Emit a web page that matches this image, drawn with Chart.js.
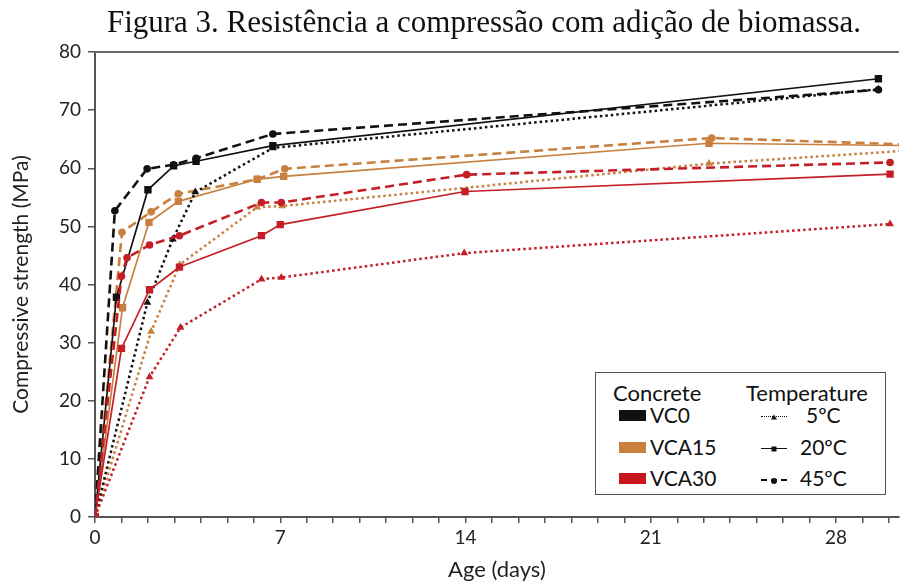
<!DOCTYPE html>
<html>
<head>
<meta charset="utf-8">
<script src="https://cdn.jsdelivr.net/npm/chart.js@4"></script>
<style>
  html, body { margin: 0; padding: 0; background: #fff; }
  #wrap { position: relative; width: 904px; height: 583px; overflow: hidden; }
  #chart { position: absolute; left: 0; top: 0; }
  #title {
    position: absolute; left: 0; top: 4px; width: 968px; text-align: center;
    font-family: "Liberation Serif", "Times New Roman", serif; font-size: 31px; color: #111;
    white-space: nowrap;
  }
  #legend {
    position: absolute; left: 595px; top: 372px; width: 289px; height: 121px;
    border: 1.5px solid #555; background: #fff; font-family: Lato, sans-serif; color: #111;
  }
  .hd { position: absolute; top: 7px; font-size: 22px; line-height: 26px; }
  .row { position: absolute; font-size: 21px; line-height: 22px; }
  .sw { position: absolute; width: 27px; height: 11px; }
  .smp { position: absolute; width: 26px; height: 0; }
  .mk { position: absolute; left: 50%; top: 50%; transform: translate(-50%, -50%); background: #111; }
</style>
</head>
<body>
<div id="wrap">
  <canvas id="chart" width="904" height="583"></canvas>
  <div id="title">Figura 3. Resistência a compressão com adição de biomassa.</div>
  <div id="legend">
    <div class="hd" style="left:17px;">Concrete</div>
    <div class="hd" style="left:150px;">Temperature</div>

    <div class="sw" style="left:23px; top:37px; background:#111;"></div>
    <div class="row" style="left:54px; top:31px;">VC0</div>
    <div class="sw" style="left:23px; top:69px; background:#c8803f;"></div>
    <div class="row" style="left:54px; top:63px;">VCA15</div>
    <div class="sw" style="left:23px; top:100px; background:#c8161e;"></div>
    <div class="row" style="left:54px; top:94px;">VCA30</div>

    <div class="smp" style="left:165px; top:43px; border-top:1.5px dotted #111;">
      <div class="mk" style="width:0;height:0;background:none;border-left:3px solid transparent;border-right:3px solid transparent;border-bottom:5px solid #111;"></div>
    </div>
    <div class="row" style="left:210px; top:31px;">5ºC</div>
    <div class="smp" style="left:165px; top:75px; border-top:1.5px solid #111;">
      <div class="mk" style="width:5px;height:5px;"></div>
    </div>
    <div class="row" style="left:204px; top:63px;">20ºC</div>
    <div class="smp" style="left:165px; top:106px; border-top:2px dashed #111;">
      <div class="mk" style="width:6px;height:6px;border-radius:50%;"></div>
    </div>
    <div class="row" style="left:204px; top:94px;">45ºC</div>
  </div>
</div>
<script>
// Compressive strength (MPa) against age (days), per concrete mix and curing temperature.
const VCA30_5C_AGE  = [0, 2.06, 3.23, 6.29, 7.04, 13.95, 30.04];
const VCA30_5C_MPA  = [0, 24.1, 32.6, 40.9, 41.2, 45.4, 50.4];
const VCA30_20C_AGE = [0, 1.0, 2.06, 3.19, 6.29, 7.0, 13.98, 30.04];
const VCA30_20C_MPA = [0, 29.0, 39.1, 43.0, 48.4, 50.3, 56.0, 59.0];
const VCA30_45C_AGE = [0, 1.0, 1.21, 2.06, 3.19, 6.29, 7.04, 14.04, 30.04];
const VCA30_45C_MPA = [0, 41.4, 44.6, 46.8, 48.4, 54.1, 54.1, 58.9, 61.0];

const VCA15_5C_AGE  = [0, 2.12, 3.2, 6.13, 7.07, 23.2, 30.6];
const VCA15_5C_MPA  = [0, 31.9, 43.4, 53.3, 53.5, 60.8, 63.0];
const VCA15_20C_AGE = [0, 1.04, 2.04, 3.15, 6.13, 7.13, 23.2, 30.6];
const VCA15_20C_MPA = [0, 36.0, 50.7, 54.3, 58.1, 58.6, 64.3, 63.9];
const VCA15_45C_AGE = [0, 1.02, 2.12, 3.15, 6.13, 7.17, 23.3, 30.6];
const VCA15_45C_MPA = [0, 49.0, 52.5, 55.6, 58.1, 59.9, 65.2, 64.1];

const VC0_5C_AGE  = [0, 1.98, 2.94, 3.79, 6.72, 29.6];
const VC0_5C_MPA  = [0, 36.9, 47.8, 55.9, 63.5, 73.6];
const VC0_20C_AGE = [0, 0.81, 2.0, 2.97, 3.82, 6.72, 29.6];
const VC0_20C_MPA = [0, 37.8, 56.3, 60.4, 61.2, 63.9, 75.4];
const VC0_45C_AGE = [0, 0.75, 1.97, 2.97, 3.82, 6.72, 29.6];
const VC0_45C_MPA = [0, 52.7, 59.9, 60.6, 61.7, 65.9, 73.5];

const X_TICK_LABELS = [0, 7, 14, 21, 28];
const Y_TICKS = [0, 10, 20, 30, 40, 50, 60, 70, 80];

const BLACK = '#111111';
const ORANGE = '#c8803f';
const RED = '#c41e26';

function pts(age, mpa) { return age.map((a, i) => ({ x: a, y: mpa[i] })); }

// temperature -> line and marker style
const STYLE = {
  '5':  { borderDash: [2.5, 3], borderWidth: 2.5, pointStyle: 'triangle', pointRadius: 4.5 },
  '20': { borderDash: [],       borderWidth: 1.7, pointStyle: 'rect',     pointRadius: 5.2 },
  '45': { borderDash: [9, 5],   borderWidth: 2.6, pointStyle: 'circle',   pointRadius: 3.8 }
};

function series(label, color, temp, age, mpa) {
  const s = STYLE[temp];
  return {
    label, data: pts(age, mpa), showLine: true, tension: 0,
    borderColor: color, backgroundColor: color, pointBorderColor: color, pointBackgroundColor: color,
    borderWidth: s.borderWidth, borderDash: s.borderDash,
    pointStyle: s.pointStyle, pointRadius: s.pointRadius, pointBorderWidth: 0, pointHoverRadius: s.pointRadius
  };
}

const datasets = [
  series('VCA30 20ºC', RED, '20', VCA30_20C_AGE, VCA30_20C_MPA),
  series('VCA30 45ºC', RED, '45', VCA30_45C_AGE, VCA30_45C_MPA),
  series('VCA30 5ºC',  RED, '5',  VCA30_5C_AGE,  VCA30_5C_MPA),
  series('VC0 45ºC', BLACK, '45', VC0_45C_AGE, VC0_45C_MPA),
  series('VC0 20ºC', BLACK, '20', VC0_20C_AGE, VC0_20C_MPA),
  series('VC0 5ºC',  BLACK, '5',  VC0_5C_AGE,  VC0_5C_MPA),
  series('VCA15 45ºC', ORANGE, '45', VCA15_45C_AGE, VCA15_45C_MPA),
  series('VCA15 20ºC', ORANGE, '20', VCA15_20C_AGE, VCA15_20C_MPA),
  series('VCA15 5ºC',  ORANGE, '5',  VCA15_5C_AGE,  VCA15_5C_MPA)
];

// top frame line of the plot area
const topFrame = {
  id: 'topFrame',
  afterDraw(chart) {
    const { ctx, chartArea: a } = chart;
    ctx.save();
    ctx.strokeStyle = '#666';
    ctx.lineWidth = 2;
    ctx.beginPath();
    ctx.moveTo(a.left, a.top);
    ctx.lineTo(a.right, a.top);
    ctx.stroke();
    ctx.restore();
  }
};

Chart.defaults.font.family = 'Lato, sans-serif';
Chart.defaults.color = '#222';

new Chart(document.getElementById('chart'), {
  type: 'scatter',
  data: { datasets },
  plugins: [topFrame],
  options: {
    responsive: false,
    animation: false,
    events: [],
    layout: { padding: { top: 52, right: 0, bottom: 0, left: 0 } },
    plugins: { legend: { display: false }, tooltip: { enabled: false }, title: { display: false } },
    scales: {
      x: {
        type: 'linear', min: 0, max: 30.37,
        afterFit: s => { s.height = 66; },
        afterBuildTicks: s => { s.ticks = Array.from({ length: 31 }, (_, i) => ({ value: i })); },
        ticks: {
          autoSkip: false, maxRotation: 0, padding: 3, font: { size: 19 }, color: '#222',
          callback: v => (X_TICK_LABELS.includes(v) ? String(v) : '')
        },
        grid: { display: true, drawOnChartArea: false, drawTicks: true, tickLength: 6, color: '#555', lineWidth: 1.5 },
        border: { display: true, color: '#555', width: 2 },
        title: { display: true, text: 'Age (days)', font: { size: 22 }, color: '#222', padding: { top: 0, bottom: 0 } }
      },
      y: {
        type: 'linear', min: 0, max: 80,
        afterFit: s => { s.width = 95; },
        afterBuildTicks: s => { s.ticks = Y_TICKS.map(v => ({ value: v })); },
        ticks: { padding: 7, font: { size: 19 }, color: '#222' },
        grid: { display: true, drawOnChartArea: false, drawTicks: true, tickLength: 7, color: '#555', lineWidth: 1.5 },
        border: { display: true, color: '#555', width: 2 },
        title: { display: true, text: 'Compressive strength (MPa)', font: { size: 21 }, color: '#222', padding: { top: 9, bottom: 0 } }
      }
    }
  }
});
</script>
</body>
</html>
